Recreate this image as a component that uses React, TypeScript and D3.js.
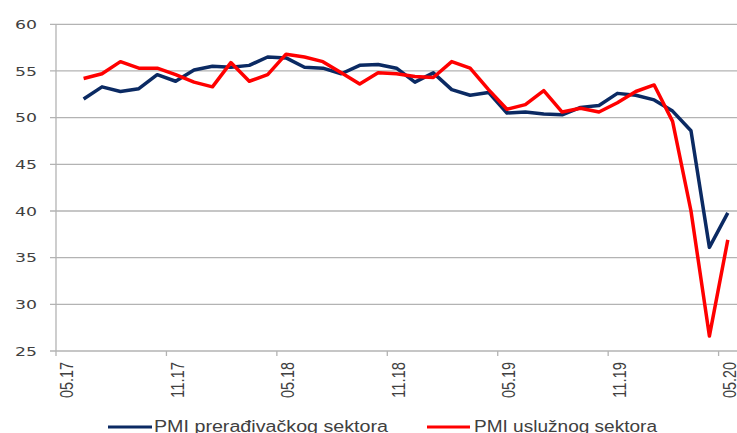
import React from 'react';
import * as d3 from 'd3';

// months on the category axis, 05.17 .. 05.20
const months = [
  "05.17", "06.17", "07.17", "08.17", "09.17", "10.17", "11.17", "12.17",
  "01.18", "02.18", "03.18", "04.18", "05.18", "06.18", "07.18", "08.18",
  "09.18", "10.18", "11.18", "12.18", "01.19", "02.19", "03.19", "04.19",
  "05.19", "06.19", "07.19", "08.19", "09.19", "10.19", "11.19", "12.19",
  "01.20", "02.20", "03.20", "04.20", "05.20"
];
const tickLabels = ["05.17", "11.17", "05.18", "11.18", "05.19", "11.19", "05.20"];
const yTicks = [25, 30, 35, 40, 45, 50, 55, 60];

// series start at 06.17
const seriesMonths = months.slice(1);
const manufacturing = [
  52.0, 53.3, 52.8, 53.1, 54.6, 53.9, 55.1, 55.5, 55.4, 55.6,
  56.5, 56.4, 55.4, 55.3, 54.7, 55.6, 55.7, 55.3, 53.8, 54.8,
  53.0, 52.4, 52.7, 50.5, 50.6, 50.4, 50.3, 51.1, 51.3, 52.6,
  52.4, 51.9, 50.7, 48.6, 36.1, 39.8
];
const services = [
  54.2, 54.7, 56.0, 55.3, 55.3, 54.6, 53.8, 53.3, 55.9, 53.9,
  54.6, 56.8, 56.5, 56.0, 54.8, 53.6, 54.8, 54.7, 54.4, 54.3,
  56.0, 55.3, 53.0, 50.9, 51.4, 52.9, 50.6, 51.0, 50.6, 51.6,
  52.8, 53.5, 49.6, 40.0, 26.6, 36.9
];

const W = 737;
const H = 433;
const left = 56;
const right = 737;
const top = 24.3;
const bottom = 351;

const NAVY = "#0b2a63";
const RED = "#ff0000";
const GRID = "#b3b3b3";
const TEXT = "#404040";

export default function App() {
  const x = d3.scaleBand<string>().domain(months).range([left, right]).paddingInner(0).paddingOuter(0);
  const cx = (m: string) => (x(m) as number) + x.bandwidth() / 2;
  const y = d3.scaleLinear().domain([25, 60]).range([bottom, top]);

  const line = d3.line<number>()
    .x((_, i) => cx(seriesMonths[i]))
    .y(d => y(d));

  // tick marks every 6 categories at the band edges
  const tickEdges = tickLabels.map(m => x(m) as number);

  return (
    <svg width={W} height={H} style={{ position: "absolute", left: 0, top: 0, background: "#fff" }}>
      {yTicks.map(t => (
        <g key={t}>
          <line x1={left - 6} x2={right} y1={y(t)} y2={y(t)} stroke={GRID} strokeWidth={1.3} />
          <text x={37} y={y(t)} dy="0.36em" textAnchor="end" fontFamily="DejaVu Sans" fontSize={13}
            fill={TEXT} textLength={22} lengthAdjust="spacingAndGlyphs">{t}</text>
        </g>
      ))}
      <line x1={left} x2={left} y1={top} y2={bottom} stroke={GRID} strokeWidth={1.3} />
      {tickEdges.map((e, i) => (
        <line key={i} x1={e} x2={e} y1={bottom} y2={bottom + 5} stroke={GRID} strokeWidth={1.3} />
      ))}
      {tickLabels.map(m => (
        <text key={m} transform={`translate(${cx(m) + 2},${bottom + 11}) scale(1.35,1) rotate(-90)`}
          textAnchor="end" dominantBaseline="central" fontFamily="Liberation Sans" fontSize={14}
          fill={TEXT} textLength={36} lengthAdjust="spacingAndGlyphs">{m}</text>
      ))}
      <path d={line(manufacturing) || ""} fill="none" stroke={NAVY} strokeWidth={3.5} strokeLinejoin="round" />
      <path d={line(services) || ""} fill="none" stroke={RED} strokeWidth={3.5} strokeLinejoin="round" />

      <line x1={108} x2={152} y1={427} y2={427} stroke={NAVY} strokeWidth={3} />
      <text x={154} y={432} fontFamily="Liberation Sans" fontSize={16} fill={TEXT}
        textLength={234} lengthAdjust="spacingAndGlyphs">PMI prerađivačkog sektora</text>
      <line x1={427} x2={470} y1={427} y2={427} stroke={RED} strokeWidth={3} />
      <text x={474} y={432} fontFamily="Liberation Sans" fontSize={16} fill={TEXT}
        textLength={183} lengthAdjust="spacingAndGlyphs">PMI uslužnog sektora</text>
    </svg>
  );
}
